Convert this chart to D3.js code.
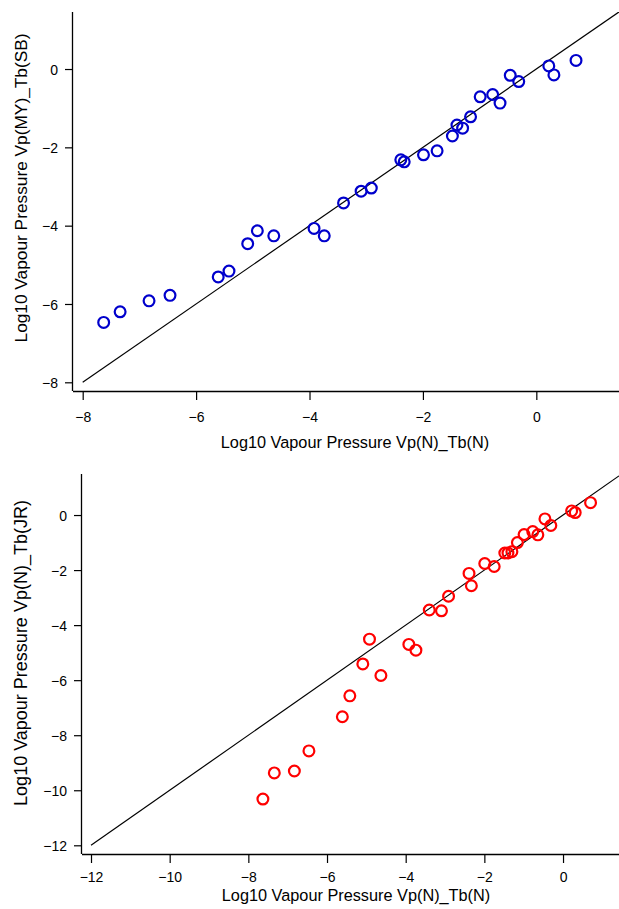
<!DOCTYPE html>
<html>
<head>
<meta charset="utf-8">
<script src="https://cdn.jsdelivr.net/npm/d3@7"></script>
<style>
  html, body { margin: 0; padding: 0; background: #fff; }
  svg { display: block; }
  text { font-family: "Liberation Sans", Arial, sans-serif; fill: #000; }
</style>
</head>
<body>
<div id="chart"></div>
<script>
// ---- Data ----
const vpN_TbN = [-7.63,-7.34,-6.83,-6.46,-5.61,-5.42,-5.09,-4.92,-4.63,-3.92,-3.74,-3.40,-3.09,-2.91,-2.39,-2.33,-1.99,-1.75,-1.48,-1.40,-1.30,-1.16,-0.99,-0.77,-0.64,-0.46,-0.31,0.22,0.31,0.70];
const vpMY_TbSB = [-6.47,-6.20,-5.92,-5.78,-5.31,-5.16,-4.46,-4.13,-4.26,-4.07,-4.26,-3.42,-3.12,-3.04,-2.32,-2.37,-2.19,-2.09,-1.71,-1.43,-1.51,-1.22,-0.71,-0.65,-0.87,-0.16,-0.32,0.08,-0.15,0.22];
const vpN_TbJR = [-10.32,-9.37,-9.30,-8.57,-7.33,-6.57,-5.41,-4.51,-5.83,-4.70,-4.91,-3.45,-3.48,-2.95,-2.12,-2.57,-1.76,-1.87,-1.38,-1.38,-1.33,-1.00,-0.71,-0.60,-0.72,-0.14,-0.38,0.15,0.09,0.45];

const topXTicks = [-8,-6,-4,-2,0];
const topYTicks = [0,-2,-4,-6,-8];
const botXTicks = [-12,-10,-8,-6,-4,-2,0];
const botYTicks = [0,-2,-4,-6,-8,-10,-12];

const xTitle = "Log10 Vapour Pressure Vp(N)_Tb(N)";
const topYTitle = "Log10 Vapour Pressure Vp(MY)_Tb(SB)";
const botYTitle = "Log10 Vapour Pressure Vp(N)_Tb(JR)";

const W = 619, H = 909;
const svg = d3.select("#chart").append("svg").attr("width", W).attr("height", H);

function panel(cfg) {
  const x = d3.scaleLinear().domain(cfg.xDomain).range([cfg.left, cfg.right]);
  const y = d3.scaleLinear().domain(cfg.yDomain).range([cfg.bottom, cfg.top]);
  const g = svg.append("g");

  const clipId = "clip" + cfg.id;
  svg.append("clipPath").attr("id", clipId).append("rect")
    .attr("x", cfg.left).attr("y", cfg.top)
    .attr("width", cfg.right - cfg.left).attr("height", cfg.bottom - cfg.top);

  // 1:1 line
  const xmax = cfg.xDomain[1];
  g.append("line")
    .attr("clip-path", `url(#${clipId})`)
    .attr("x1", x(cfg.lineStart)).attr("y1", y(cfg.lineStart))
    .attr("x2", x(xmax)).attr("y2", y(xmax))
    .attr("stroke", "#000").attr("stroke-width", 1.2);

  // points
  g.append("g").selectAll("circle")
    .data(cfg.xs.map((v, i) => [v, cfg.ys[i]]))
    .join("circle")
    .attr("cx", d => x(d[0])).attr("cy", d => y(d[1]))
    .attr("r", 5.4)
    .attr("fill", "none")
    .attr("stroke", cfg.color)
    .attr("stroke-width", 2.2);

  // axes
  const xAxis = d3.axisBottom(x).tickValues(cfg.xTicks).tickSize(9).tickPadding(8)
    .tickFormat(d3.format("d"));
  const yAxis = d3.axisLeft(y).tickValues(cfg.yTicks).tickSize(8).tickPadding(7)
    .tickFormat(d3.format("d"));

  const gx = g.append("g").attr("transform", `translate(0,${cfg.bottom})`).call(xAxis);
  const gy = g.append("g").attr("transform", `translate(${cfg.left},0)`).call(yAxis);
  [gx, gy].forEach(a => {
    a.select(".domain").attr("stroke", "#000").attr("stroke-width", 1.3);
    a.selectAll(".tick line").attr("stroke", "#000").attr("stroke-width", 1.2);
    a.selectAll(".tick text").attr("font-size", 14).attr("fill", "#000")
      .style("font-family", '"Liberation Sans", Arial, sans-serif');
  });
  gx.select(".domain").attr("d", `M${cfg.left},0.5H${cfg.right}`);
  gy.select(".domain").attr("d", `M-0.5,${cfg.top}V${cfg.bottom}`);
  gx.selectAll(".tick text").attr("dy", null).attr("y", cfg.xTickLabelOffset);
  gy.selectAll(".tick text").attr("dy", "0.36em");

  // titles
  g.append("text")
    .attr("x", cfg.xTitleX).attr("y", cfg.xTitleY)
    .attr("text-anchor", "middle").attr("font-size", 16.3)
    .text(cfg.xTitle);
  g.append("text")
    .attr("transform", `translate(21,${cfg.yTitleY}) rotate(-90)`)
    .attr("text-anchor", "middle").attr("dominant-baseline", "central")
    .attr("font-size", cfg.yTitleSize)
    .text(cfg.yTitle);
}

panel({
  id: "top",
  left: 73, right: 619, top: 12, bottom: 391,
  xDomain: [-8.171, 1.458], yDomain: [-8.222, 1.456],
  xTicks: topXTicks, yTicks: topYTicks,
  xs: vpN_TbN, ys: vpMY_TbSB, color: "#0000cc",
  lineStart: -8, xTickLabelOffset: 31,
  xTitle: xTitle, xTitleX: 355, xTitleY: 448,
  yTitle: topYTitle, yTitleY: 188, yTitleSize: 17.3
});

panel({
  id: "bot",
  left: 82, right: 619, top: 474, bottom: 854,
  xDomain: [-12.229, 1.423], yDomain: [-12.316, 1.491],
  xTicks: botXTicks, yTicks: botYTicks,
  xs: vpN_TbN, ys: vpN_TbJR, color: "#ff0000",
  lineStart: -12, xTickLabelOffset: 28,
  xTitle: xTitle, xTitleX: 356, xTitleY: 901,
  yTitle: botYTitle, yTitleY: 653, yTitleSize: 18
});
</script>
</body>
</html>
